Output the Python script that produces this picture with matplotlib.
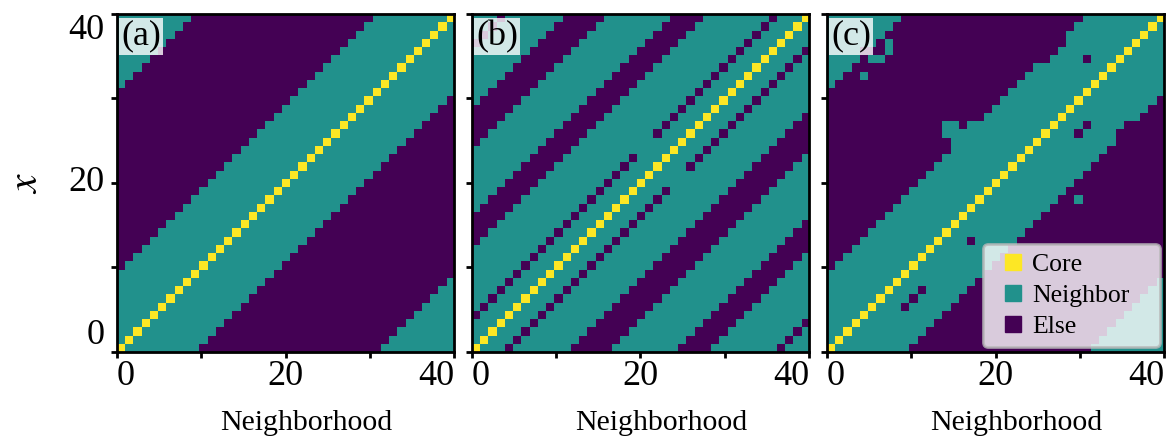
import re
import numpy as np
import matplotlib.pyplot as plt
from matplotlib.colors import ListedColormap
from matplotlib.lines import Line2D

plt.rcParams['font.family'] = ['Liberation Serif', 'DejaVu Serif']
plt.rcParams['mathtext.fontset'] = 'stix'

# Neighborhood maps. One row per x, from x = 40 (top) down to x = 0,
# run-length coded as <count><kind>: c = core, n = neighbor, e = else
map_a = [
    "9n 22e 9n c",
    "8n 22e 9n c n",
    "7n 22e 9n c 2n",
    "6n 22e 9n c 3n",
    "5n 22e 9n c 4n",
    "4n 22e 9n c 5n",
    "3n 22e 9n c 6n",
    "2n 22e 9n c 7n",
    "n 22e 9n c 8n",
    "22e 9n c 9n",
    "21e 9n c 9n e",
    "20e 9n c 9n 2e",
    "19e 9n c 9n 3e",
    "18e 9n c 9n 4e",
    "17e 9n c 9n 5e",
    "16e 9n c 9n 6e",
    "15e 9n c 9n 7e",
    "14e 9n c 9n 8e",
    "13e 9n c 9n 9e",
    "12e 9n c 9n 10e",
    "11e 9n c 9n 11e",
    "10e 9n c 9n 12e",
    "9e 9n c 9n 13e",
    "8e 9n c 9n 14e",
    "7e 9n c 9n 15e",
    "6e 9n c 9n 16e",
    "5e 9n c 9n 17e",
    "4e 9n c 9n 18e",
    "3e 9n c 9n 19e",
    "2e 9n c 9n 20e",
    "e 9n c 9n 21e",
    "9n c 9n 22e",
    "8n c 9n 22e n",
    "7n c 9n 22e 2n",
    "6n c 9n 22e 3n",
    "5n c 9n 22e 4n",
    "4n c 9n 22e 5n",
    "3n c 9n 22e 6n",
    "2n c 9n 22e 7n",
    "n c 9n 22e 8n",
    "c 9n 22e 9n",
]

map_b = [
    "3n e 7n 5e 8n 4e 8n e 3n c",
    "2n e 7n 5e 8n 4e 8n e 3n c n",
    "n e 7n 5e 8n 4e 8n e 3n c 2n",
    "e 7n 5e 8n 4e 8n e 3n c 3n",
    "7n 5e 8n 4e 8n e 3n c 3n e",
    "6n 5e 8n 4e 8n e 3n c 3n e n",
    "5n 5e 8n 4e 8n e 3n c 3n e 2n",
    "4n 5e 8n 4e 8n e 3n c 3n e 3n",
    "3n 5e 8n 4e 8n e 3n c 3n e 4n",
    "2n 5e 8n 4e 8n e 3n c 3n e 5n",
    "n 5e 8n 4e 8n e 3n c 3n e 6n",
    "5e 8n 4e 8n e 3n c 3n e 7n",
    "4e 8n 4e 8n e 3n c 3n e 7n e",
    "3e 8n 4e 8n e 3n c 3n e 7n 2e",
    "2e 8n 4e 8n e 3n c 3n e 7n 3e",
    "e 8n 4e 12n c 3n e 7n 4e",
    "8n 4e 12n c 3n e 7n 5e",
    "7n 4e 8n e 3n c 3n e 7n 5e n",
    "6n 4e 8n e 3n c 3n e 7n 5e 2n",
    "5n 4e 8n e 3n c 11n 5e 3n",
    "4n 4e 8n e 3n c 11n 5e 4n",
    "3n 4e 8n e 3n c 3n e 7n 5e 5n",
    "2n 4e 8n e 3n c 3n e 7n 5e 6n",
    "n 4e 8n e 3n c 3n e 7n 5e 7n",
    "4e 8n e 3n c 3n e 7n 5e 8n",
    "3e 8n e 3n c 3n e 7n 5e 8n e",
    "2e 8n e 3n c 3n e 7n 5e 8n 2e",
    "e 8n e 3n c 3n e 7n 5e 8n 3e",
    "8n e 3n c 3n e 7n 5e 8n 4e",
    "7n e 3n c 3n e 7n 5e 8n 4e n",
    "6n e 3n c 3n e 7n 5e 8n 4e 2n",
    "5n e 3n c 3n e 7n 5e 8n 4e 3n",
    "4n e 3n c 3n e 7n 5e 8n 4e 4n",
    "3n e 3n c 3n e 7n 5e 8n 4e 5n",
    "2n e 3n c 3n e 7n 5e 8n 4e 6n",
    "n e 3n c 3n e 7n 5e 8n 4e 7n",
    "e 3n c 3n e 7n 5e 8n 4e 8n",
    "3n c 3n e 7n 5e 8n 4e 8n e",
    "2n c 3n e 7n 5e 8n 4e 8n e n",
    "n c 3n e 7n 5e 8n 4e 8n e 2n",
    "c 3n e 7n 5e 8n 4e 8n e 3n",
]

map_c = [
    "9n 22e 9n c",
    "8n 22e 9n c n",
    "7n 22e 9n c 2n",
    "6n e n 21e 8n c 3n",
    "4n 3e n 20e 8n c 4n",
    "4n e 2n 20e 4n e 3n c 5n",
    "3n 22e 9n c 6n",
    "2n 2e n 19e 9n c 7n",
    "n 22e 9n c 8n",
    "22e 9n c 9n",
    "21e 9n c 9n e",
    "20e 9n c 9n 2e",
    "19e 9n c 9n 3e",
    "14e 2n e 10n c 3n e 4n 5e",
    "14e 12n c 3n e 4n 6e",
    "15e 10n c 9n 6e",
    "15e 9n c 9n 7e",
    "14e 9n c 9n 8e",
    "13e 9n c 9n 9e",
    "12e 9n c 9n 10e",
    "11e 9n c 9n 11e",
    "10e 9n c 9n 12e",
    "9e 9n c 9n 2e n 10e",
    "8e 9n c 9n 14e",
    "7e 9n c 9n 15e",
    "6e 9n c 9n 16e",
    "5e 9n c 9n 17e",
    "4e 9n c 3n e 5n 18e",
    "3e 9n c 9n 19e",
    "2e 9n c 9n 20e",
    "e 9n c 9n 21e",
    "9n c 9n 22e",
    "8n c 9n 22e n",
    "7n c 3n e 5n 22e 2n",
    "6n c 3n e 5n 22e 3n",
    "5n c 3n e 5n 22e 4n",
    "4n c 9n 22e 5n",
    "3n c 9n 22e 6n",
    "2n c 9n 22e 7n",
    "n c 9n 22e 8n",
    "c 9n 22e 9n",
]

kinds = ['Core', 'Neighbor', 'Else']
kind_colors = ['#fde725', '#21918c', '#440154']
panel_tags = ['(a)', '(b)', '(c)']
tick_pos = [0, 10, 20, 30, 40]
tick_text = ['0', '', '20', '', '40']

code = {'e': 0, 'n': 1, 'c': 2}


def decode(rows):
    grid = []
    for row in rows:
        cells = []
        for tok in row.split():
            m = re.fullmatch(r'(\d*)([cne])', tok)
            cells += [code[m.group(2)]] * int(m.group(1) or 1)
        assert len(cells) == 41, (row, len(cells))
        grid.append(cells)
    return np.array(grid[::-1])  # x = 0 first


cmap = ListedColormap([kind_colors[2], kind_colors[1], kind_colors[0]])

fig = plt.figure(figsize=(11.73, 4.43), dpi=100)
lefts = [0.0995, 0.4021, 0.7048]

for i, (rows, tag) in enumerate(zip([map_a, map_b, map_c], panel_tags)):
    ax = fig.add_axes([lefts[i], 0.2061, 0.2878, 0.7623])
    ax.imshow(decode(rows), cmap=cmap, vmin=-0.5, vmax=2.5, origin='lower',
              extent=(0, 40, 0, 40), interpolation='nearest', aspect='auto')
    for sp in ax.spines.values():
        sp.set_linewidth(2.0)
    ax.set_xticks(tick_pos)
    ax.set_xticklabels(tick_text)
    ax.set_yticks(tick_pos)
    ax.tick_params(direction='out', length=4, width=2, labelsize=26)
    ax.tick_params(axis='x', pad=2)
    ax.tick_params(axis='y', pad=5)
    for lab, ha in zip(ax.get_xticklabels(), ['left', 'center', 'center', 'center', 'right']):
        lab.set_ha(ha)
    if i == 0:
        ax.set_yticklabels(tick_text)
        for lab, va in zip(ax.get_yticklabels(), ['bottom', 'center', 'center', 'center', 'top']):
            lab.set_va(va)
        ax.set_ylabel('$x$', fontsize=30)
        ax.yaxis.set_label_coords(-0.21, 0.5)
    else:
        ax.set_yticklabels([])
    ax.set_xlabel('Neighborhood', fontsize=21.5)
    ax.xaxis.set_label_coords(0.56, -0.174)
    ax.text(0.0127, 0.983, tag, transform=ax.transAxes, ha='left', va='top', fontsize=26,
            bbox=dict(facecolor='white', alpha=0.8, edgecolor='none', pad=1.5))
    if i == 2:
        handles = [Line2D([], [], marker='s', ls='none', ms=11, mfc=col, mec=col)
                   for col in kind_colors]
        leg = ax.legend(handles, kinds, loc='lower left', bbox_to_anchor=(0.463, 0.014, 0.525, 0.3),
                        mode='expand', borderaxespad=0, fontsize=18.5, framealpha=0.8,
                        fancybox=True, edgecolor='0.72', handlelength=1.6, handletextpad=-0.05,
                        labelspacing=0.3, borderpad=0.36)
        leg.get_frame().set_linewidth(2)

fig.savefig('out.png', dpi=100)
